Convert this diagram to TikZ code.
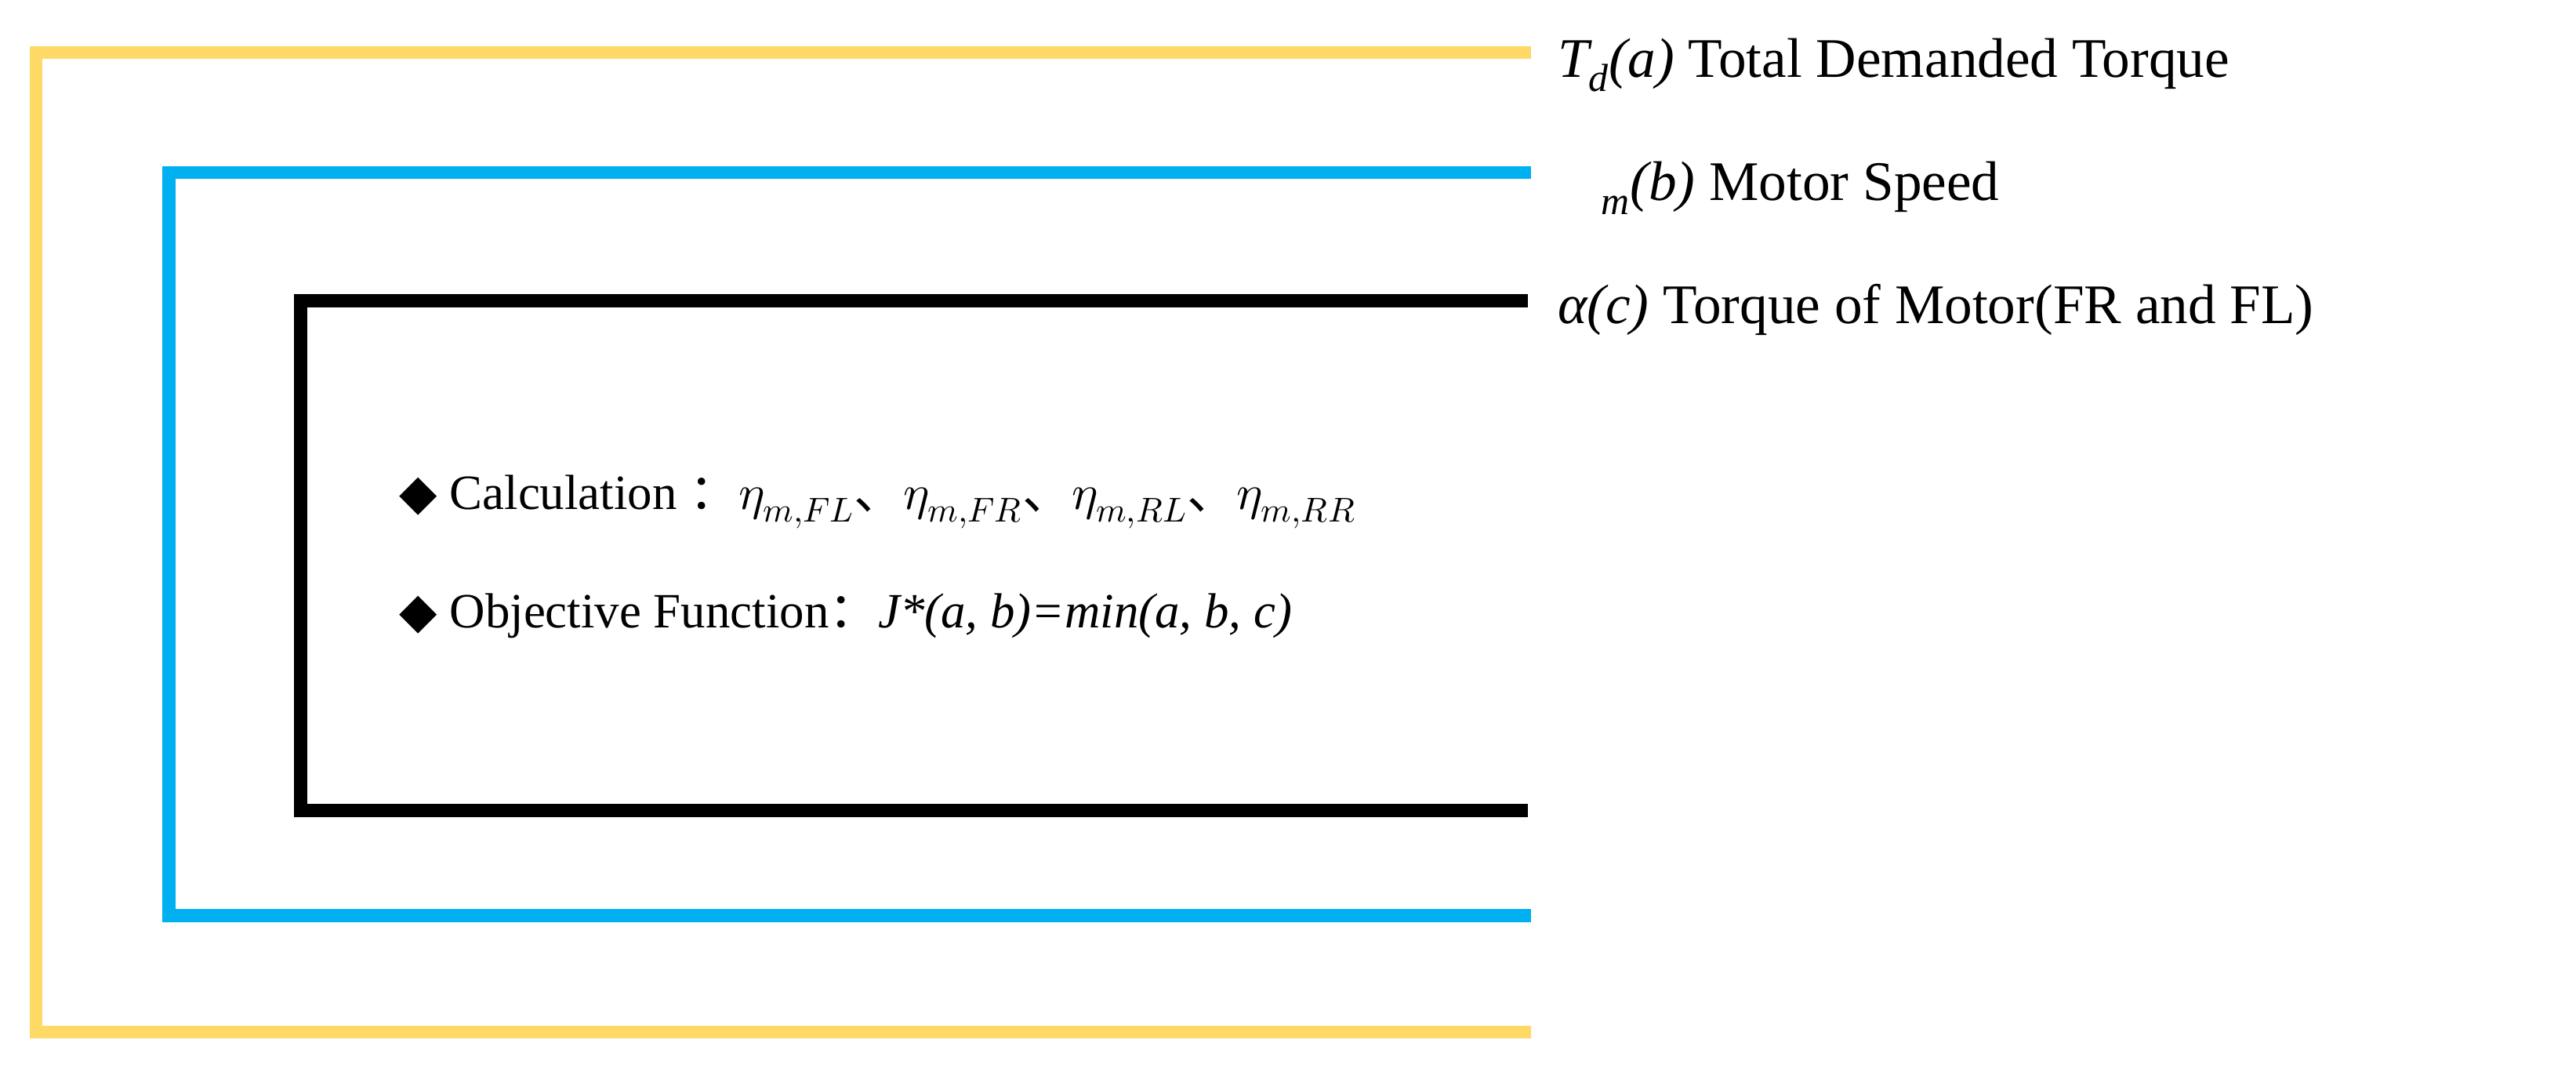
\documentclass[tikz,border=0pt]{standalone}
\usepackage{fontspec}
\setmainfont{Liberation Serif}
\newfontfamily\cjkfnt{Noto Sans CJK SC}
\newfontfamily\djvfnt{DejaVu Sans}
\usepackage{unicode-math}
\setmathfont{Latin Modern Math}
\definecolor{yel}{HTML}{FFD966}
\definecolor{blu}{HTML}{00B0F0}
\tikzset{brk/.style={line width=8pt},lab/.style={anchor=base west,inner sep=0pt,font=\fontsize{34}{40}\selectfont}}
\begin{document}
\begin{tikzpicture}[x=1pt,y=-1pt]
\useasboundingbox (0,0) rectangle (1568,648);
\draw[brk,yel] (932,32) -- (22,32) -- (22,628) -- (932,628);
\draw[brk,blu] (932,105) -- (103,105) -- (103,557) -- (932,557);
\draw[brk,black] (930,183) -- (183,183) -- (183,493) -- (930,493);
\node[lab] (ta) at (948,47) {$\mathit{T_d}$\textit{(a)} Total Demanded Torque};
\node[lab] (tb) at (948,122) {$\mathit{\omega_m}$\textit{(b)} Motor Speed};
\node[lab] (tc) at (948,197) {\textit{α(c)} Torque of Motor(FR and FL)};
\node[lab] (c1) at (243,310) {\fontsize{30}{36}\selectfont{\djvfnt ◆} Calculation {\cjkfnt ：}$\eta_{m,FL}${\cjkfnt 、}$\eta_{m,FR}${\cjkfnt 、}$\eta_{m,RL}${\cjkfnt 、}$\eta_{m,RR}$};
\node[lab] (c2) at (243,382) {\fontsize{30}{36}\selectfont{\djvfnt ◆} Objective Function{\cjkfnt ：}\textit{J*(a, b)=min(a, b, c)}};
\end{tikzpicture}
\end{document}
